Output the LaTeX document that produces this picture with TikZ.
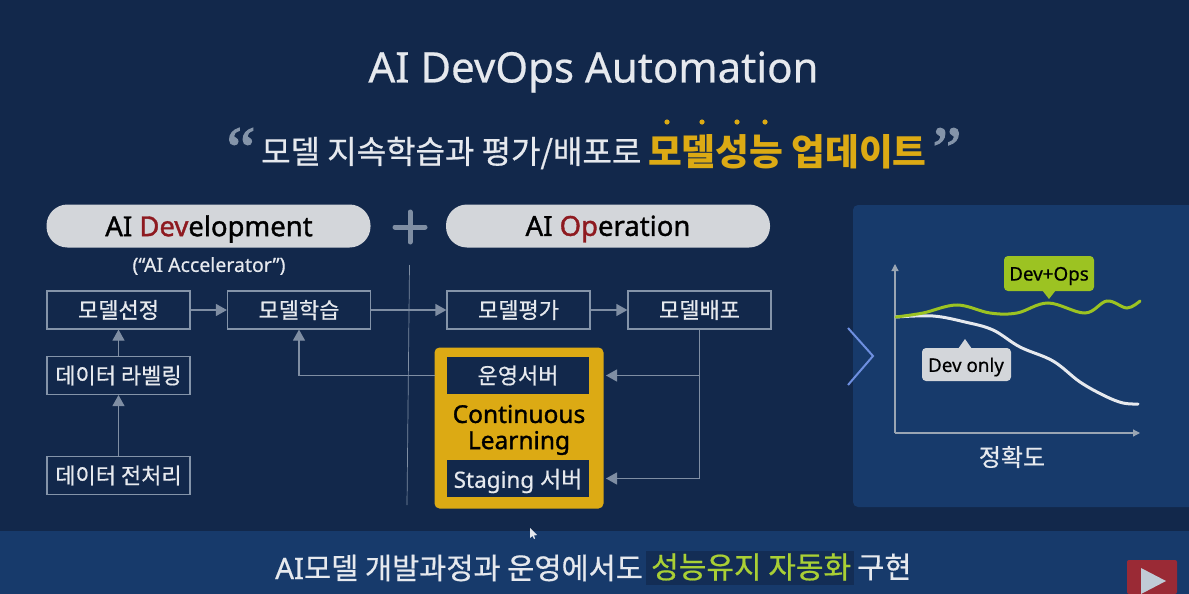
\documentclass[tikz,border=0pt]{standalone}
\usepackage{fontspec}
\setmainfont{Noto Sans}[FakeBold=0.5]
\newfontfamily\kr{Noto Sans CJK KR}[FakeBold=0.6]
\newfontfamily\krh{Noto Sans CJK KR}
\newfontfamily\enb{Noto Sans}[FakeBold=1.3]
\newfontfamily\qf{Liberation Serif}[FakeBold=1.5]
\usetikzlibrary{arrows.meta,calc}
\definecolor{bgnavy}{HTML}{12284B}
\definecolor{panelblue}{HTML}{173A6B}
\definecolor{hlnavy}{HTML}{132D55}
\definecolor{linegray}{HTML}{7F8EA3}
\definecolor{boxline}{HTML}{8494A9}
\definecolor{pillgray}{HTML}{D3D6DA}
\definecolor{gold}{HTML}{DCAA14}
\definecolor{dred}{HTML}{8E1A20}
\definecolor{lime}{HTML}{9CC322}
\definecolor{limetext}{HTML}{A9CF35}
\definecolor{chev}{HTML}{6E8FE0}
\definecolor{axisgray}{HTML}{9AA5B3}
\definecolor{softwhite}{HTML}{E6E9EE}
\definecolor{btnred}{HTML}{9A2A35}
\definecolor{btntri}{HTML}{C0CBD6}
\newcommand{\fsz}[1]{\fontsize{#1}{#1}\selectfont}
\tikzset{
  flowbox/.style={draw=boxline,line width=1.2pt,text=softwhite,minimum width=143pt,minimum height=38pt,inner sep=0pt,font=\kr\fsz{22}},
  srvbox/.style={fill=bgnavy,text=softwhite,minimum width=142pt,minimum height=37pt,inner sep=0pt,font=\kr\fsz{22}},
  pill/.style={fill=pillgray,rounded corners=21pt,minimum width=324pt,minimum height=43pt,inner sep=0pt},
  pilltext/.style={text=black,font=\enb\fsz{27.5},inner sep=0pt},
  conn/.style={draw=linegray,line width=1.2pt},
  tip/.style={-{Triangle[length=11pt,width=12pt]}},
  callout/.style={rounded corners=4pt,inner sep=0pt},
  calltext/.style={text=black,font=\fsz{18.8},inner sep=0pt}
}
\begin{document}
\begin{tikzpicture}[x=1pt,y=-1pt]
\useasboundingbox (0,0) rectangle (1189,594);
\fill[bgnavy] (0,0) rectangle (1189,594);
% bottom band and right panel
\fill[panelblue] (0,531) rectangle (1189,594);
\fill[panelblue,rounded corners=5pt] (853,205) rectangle (1200,507);
% title
\node[text=softwhite,font=\fsz{42}] (title) at (593.5,72) {AI DevOps Automation};
\node[text=softwhite,font=\kr\fsz{32},anchor=west,inner sep=0pt] (sub) at (261,153) {모델 지속학습과 평가/배포로};
\node[text=gold,font=\krh\bfseries\fsz{36.7},anchor=west,inner sep=0pt] (subhl) at (648,152) {모델성능 업데이트};
\foreach \dx in {667,702,737,765}{\fill[gold] (\dx,122) circle (2.6pt);}
\node[text=boxline,font=\qf\fsz{66},anchor=center,inner sep=0pt] (ql) at (241,150) {“};
\node[text=boxline,font=\qf\fsz{66},anchor=center,inner sep=0pt] (qr) at (947,150) {”};
% pills
\node[pill] (dev) at (208.5,226) {};
\node[pilltext] (devt) at (209,229) {AI \textcolor{dred}{Dev}elopment};
\node[pill] (ops) at (608,226) {};
\node[pilltext] (opst) at (608,229) {AI \textcolor{dred}{Op}eration};
\node[text=softwhite,font=\fsz{19.5}] (accel) at (209,266) {(“AI Accelerator”)};
\draw[linegray,line width=5pt,line cap=round] (395,227) -- (425,227);
\draw[linegray,line width=5pt,line cap=round] (410,212) -- (410,242);
% divider
\coordinate (divtop) at (409.5,265);
\coordinate (divbot) at (407,505);
\draw[draw=linegray,line width=.7pt] (divtop) -- (divbot);
% flow boxes
\node[flowbox] (select) at (118.5,310) {모델선정};
\node[flowbox] (train) at (299,310) {모델학습};
\node[flowbox] (label) at (118.5,375.5) {데이터 라벨링};
\node[flowbox] (prep) at (118.5,475.5) {데이터 전처리};
\node[flowbox] (eval) at (518.5,310) {모델평가};
\node[flowbox] (deploy) at (699.5,310) {모델배포};
% connectors behind gold box
\draw[conn,tip] (prep.north) -- (label.south);
\draw[conn,tip] (label.north) -- (select.south);
\draw[conn,tip] (select.east) -- (train.west);
\draw[conn,tip] (train.east) -- (eval.west);
\draw[conn,tip] (eval.east) -- (deploy.west);
% gold box
\node[fill=gold,rounded corners=5pt,minimum width=169pt,minimum height=161pt,inner sep=0pt] (gold) at (519,428) {};
\node[srvbox] (opsrv) at (518,375.5) {운영서버};
\node[srvbox] (stag) at (518,478.5) {};
\node[text=softwhite,font=\fsz{22.5},inner sep=0pt] (stagt) at (518,481) {Staging \kr\fsz{23}서버};
\node[text=black,font=\enb\fsz{24.5},inner sep=0pt] (cont) at (519,414) {Continuous};
\node[text=black,font=\enb\fsz{24.5},inner sep=0pt] (lear) at (519,443) {Learning};
\coordinate (opsin) at (606,375.5);
\coordinate (stagin) at (606,478.5);
\coordinate (goldout) at (435,375.5);
\draw[conn,tip] (goldout) -| (train.south);
\draw[conn,tip] (deploy.south) |- (opsin);
\draw[conn,tip] (deploy.south) |- (stagin);
% chevron
\coordinate (cha) at (848,328);
\coordinate (chb) at (873,356);
\coordinate (chc) at (848,385);
\draw[chev,line width=2pt] (cha) -- (chb) -- (chc);
% chart
\coordinate (origin) at (895,433);
\coordinate (ytop) at (895,264);
\coordinate (xend) at (1140,433);
\draw[draw=axisgray,line width=1.2pt,-{Triangle[length=7pt,width=7pt]}] (origin) -- (ytop);
\draw[draw=axisgray,line width=1.2pt,-{Triangle[length=7pt,width=7pt]}] (origin) -- (xend);
\draw[softwhite,line width=3pt,line cap=round] plot[smooth,tension=.6] coordinates {(896,317) (933,316) (965,322) (993,330) (1020,347) (1053,361) (1080,382) (1105,396) (1123,403) (1138,404)};
\draw[lime,line width=3pt,line cap=round] plot[smooth,tension=.6] coordinates {(896,317) (923,313) (957,305) (990,313) (1017,313) (1048,303) (1085,313) (1107,301) (1127,308) (1140,301)};
\fill[lime] (1042,290) -- (1049,299) -- (1056,290) -- cycle;
\node[callout,fill=lime,minimum width=90pt,minimum height=35pt] (devops) at (1049,273.5) {};
\node[calltext] (devopst) at (1049,276) {Dev+Ops};
\fill[pillgray] (958,349) -- (965,339) -- (972,349) -- cycle;
\node[callout,fill=pillgray,minimum width=89pt,minimum height=33pt] (devonly) at (966.5,364.5) {};
\node[calltext] (devonlyt) at (966,367) {Dev only};
\node[text=softwhite,font=\kr\fsz{24}] (acc) at (1012,457) {정확도};
% bottom text
\fill[hlnavy] (646,551) rectangle (854,585);
\node[text=softwhite,font=\fsz{29.5},anchor=west,inner sep=0pt] (ba) at (275,568) {AI\kr 모델 개발과정과 운영에서도};
\node[text=limetext,font=\kr\fsz{30},anchor=west,inner sep=0pt] (bb) at (651,567) {성능유지 자동화};
\node[text=softwhite,font=\kr\fsz{29.5},anchor=west,inner sep=0pt] (bc) at (857,567) {구현};
% play button
\fill[btnred,rounded corners=2pt] (1127,560) rectangle (1177,594);
\fill[btntri] (1141,568) -- (1166,581) -- (1141,594) -- cycle;
% cursor
\fill[softwhite] (530,528) -- (530,538) -- (532.5,536) -- (534,539) -- (535,538.5) -- (534,535.5) -- (537,535) -- cycle;
\end{tikzpicture}
\end{document}
